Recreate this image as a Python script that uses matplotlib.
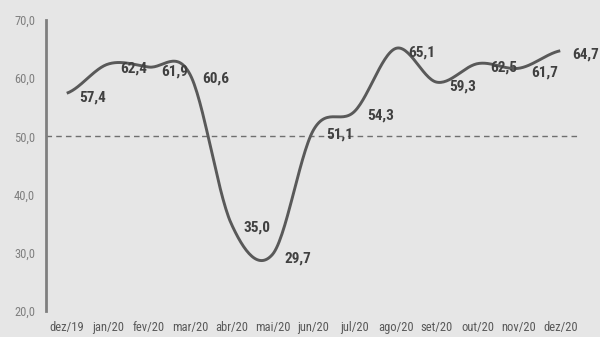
import numpy as np
import matplotlib
matplotlib.use("Agg")
import matplotlib.pyplot as plt
from matplotlib import font_manager

months = ["dez/19", "jan/20", "fev/20", "mar/20", "abr/20", "mai/20", "jun/20",
          "jul/20", "ago/20", "set/20", "out/20", "nov/20", "dez/20"]
values = [57.4, 62.4, 61.9, 60.6, 35.0, 29.7, 51.1, 54.3, 65.1, 59.3, 62.5, 61.7, 64.7]
yticks = [20, 30, 40, 50, 60, 70]
reference_level = 50.0

BG = "#e6e6e6"
LINE = "#595959"

# prefer a condensed face when one is available
names = {f.name for f in font_manager.fontManager.ttflist}
cond = [n for n in ("Liberation Sans Narrow", "DejaVu Sans Condensed", "Roboto Condensed",
                    "Open Sans Condensed") if n in names]
FAMILY = cond + ["DejaVu Sans"]
STRETCH = "condensed"


def catmull_rom(x, y, n=30):
    """Smooth curve through every point (uniform Catmull-Rom)."""
    x = np.asarray(x, float)
    y = np.asarray(y, float)
    px = np.concatenate([[2 * x[0] - x[1]], x, [2 * x[-1] - x[-2]]])
    py = np.concatenate([[y[0]], y, [y[-1]]])
    xs, ys = [], []
    t = np.linspace(0, 1, n, endpoint=False)
    for i in range(1, len(px) - 2):
        p0, p1, p2, p3 = (np.array([px[j], py[j]]) for j in range(i - 1, i + 3))
        for tt in t:
            pt = 0.5 * ((2 * p1) + (-p0 + p2) * tt
                        + (2 * p0 - 5 * p1 + 4 * p2 - p3) * tt ** 2
                        + (-p0 + 3 * p1 - 3 * p2 + p3) * tt ** 3)
            xs.append(pt[0])
            ys.append(pt[1])
    xs.append(x[-1])
    ys.append(y[-1])
    return np.array(xs), np.array(ys)


fig = plt.figure(figsize=(6.0, 3.37), dpi=100, facecolor=BG)
ax = fig.add_axes([0.077, 0.077, 0.891, 0.864], facecolor=BG)

idx = np.arange(len(months))
sx, sy = catmull_rom(idx, values)
ax.plot(sx, sy, color=LINE, lw=2.1, solid_capstyle="butt", zorder=3)

ax.axhline(reference_level, color="#6f6f6f", lw=1.0, ls=(0, (4, 3)), zorder=2)

for i, v in zip(idx, values):
    ax.annotate(f"{v:.1f}".replace(".", ","), (i, v), xytext=(9, -3),
                textcoords="offset points", ha="left", va="center",
                fontsize=11, fontweight="bold", color="#404040",
                family=FAMILY, fontstretch=STRETCH, zorder=4)

ax.set_xlim(-0.5, len(months) - 0.5)
ax.set_ylim(20, 70)
ax.set_yticks(yticks)
ax.set_yticklabels([f"{t:.1f}".replace(".", ",") for t in yticks])
ax.set_xticks(idx)
ax.set_xticklabels(months)

for s in ("top", "right", "bottom"):
    ax.spines[s].set_visible(False)
ax.spines["left"].set_color("#7f7f7f")
ax.spines["left"].set_linewidth(2.0)

ax.tick_params(axis="both", length=0)
ax.tick_params(axis="y", pad=8, labelsize=9, labelcolor="#7f7f7f")
ax.tick_params(axis="x", pad=7, labelsize=9, labelcolor="#595959")
for lab in ax.get_xticklabels() + ax.get_yticklabels():
    lab.set_family(FAMILY)
    lab.set_fontstretch(STRETCH)

fig.savefig("out.png", dpi=100, facecolor=BG)
